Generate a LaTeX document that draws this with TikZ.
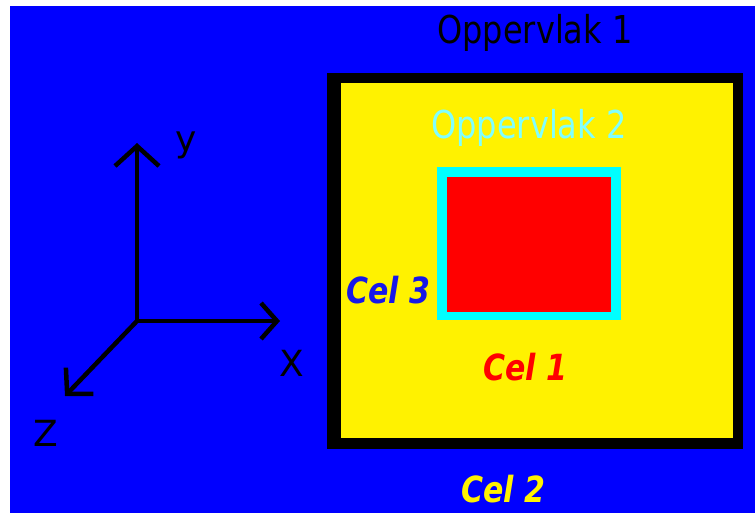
\documentclass[tikz,border=0pt]{standalone}
\usepackage{fontspec}
\setmainfont{DejaVu Sans}
\usepackage{graphicx}
\usepackage{tikz}
\usetikzlibrary{arrows.meta}
\definecolor{skyblue}{HTML}{0000FF}
\definecolor{celblue}{HTML}{1818E8}
\definecolor{lightcyan}{HTML}{80FFFF}
\definecolor{boxcyan}{HTML}{00FFFF}
\newcommand{\tall}[1]{\scalebox{1}[1.2]{#1}}

\begin{document}
\begin{tikzpicture}[
  x=1pt, y=-1pt,
  axis/.style={line width=4.5pt, draw=black, line cap=round},
  lbl/.style={inner sep=0pt, font=\fontsize{32}{34}\selectfont},
  cel/.style={inner sep=0pt, font=\fontsize{30}{32}\selectfont\bfseries\itshape},
  axlbl/.style={inner sep=0pt, font=\fontsize{36}{38}\selectfont}
]
\useasboundingbox (0,0) rectangle (755,513);
% background
\fill[white] (0,0) rectangle (755,513);
\fill[skyblue] (10,6) rectangle (755,513);

% outer box (oppervlak 1) and inner box (oppervlak 2)
\fill[black] (327,73) rectangle (743,449);
\fill[yellow] (341,83) rectangle (733,438);
\fill[boxcyan] (437,167) rectangle (621,320);
\fill[red] (447,177) rectangle (611,312);

% labels
\node[lbl, text=black] (opp1) at (535,33) {\tall{Oppervlak 1}};
\node[lbl, text=lightcyan] (opp2) at (529,128) {\tall{Oppervlak 2}};
\node[cel, text=celblue] (cel3) at (388,290) {\tall{Cel 3}};
\node[cel, text=red] (cel1) at (525,367) {\tall{Cel 1}};
\node[cel, text=yellow] (cel2) at (503,489) {\tall{Cel 2}};

% axes
\coordinate (origin) at (137,321);
\coordinate (ytip) at (137,143);
\coordinate (xtip) at (280,321);
\coordinate (ztip) at (65,396);
\draw[axis, -{Straight Barb[length=20pt, width=44pt]}] (origin) -- (ytip);
\draw[axis, -{Straight Barb[length=16pt, width=36pt]}] (origin) -- (xtip);
\draw[axis, -{Straight Barb[length=18pt, width=38pt]}] (origin) -- (ztip);
\node[axlbl] (ylbl) at (186,145) {y};
\node[axlbl] (xlbl) at (292,363) {X};
\node[axlbl] (zlbl) at (46,433) {Z};
\end{tikzpicture}
\end{document}
